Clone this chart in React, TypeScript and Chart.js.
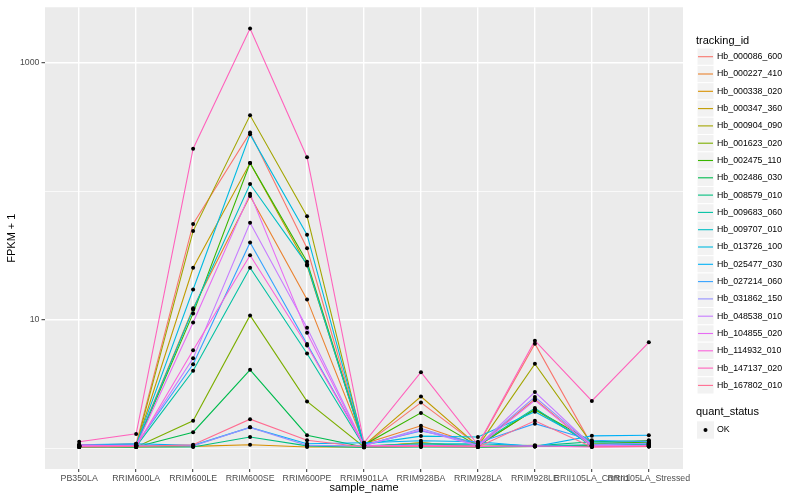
import React, { useEffect, useRef } from "react";
import { Chart, registerables } from "chart.js";

Chart.register(...registerables);

const categories = [
  "PB350LA",
  "RRIM600LA",
  "RRIM600LE",
  "RRIM600SE",
  "RRIM600PE",
  "RRIM901LA",
  "RRIM928BA",
  "RRIM928LA",
  "RRIM928LE",
  "RRII105LA_Control",
  "RRII105LA_Stressed",
];

const trackingIds = [
  "Hb_000086_600",
  "Hb_000227_410",
  "Hb_000338_020",
  "Hb_000347_360",
  "Hb_000904_090",
  "Hb_001623_020",
  "Hb_002475_110",
  "Hb_002486_030",
  "Hb_008579_010",
  "Hb_009683_060",
  "Hb_009707_010",
  "Hb_013726_100",
  "Hb_025477_030",
  "Hb_027214_060",
  "Hb_031862_150",
  "Hb_048538_010",
  "Hb_104855_020",
  "Hb_114932_010",
  "Hb_147137_020",
  "Hb_167802_010",
];

const seriesColors = [
  "#F8766D", "#EA8331", "#D89000", "#C09B00", "#A3A500",
  "#7CAE00", "#39B600", "#00BB4E", "#00BF7D", "#00C1A3",
  "#00BFC4", "#00BAE0", "#00B0F6", "#35A2FF", "#9590FF",
  "#C77CFF", "#E76BF3", "#FA62DB", "#FF62BC", "#FF6C91",
];

// FPKM + 1 values, one per sample in `categories`
const hb000086600 = [1.05, 1.08, 55.8, 287, 36, 1.05, 2.26, 1.05, 6.5, 1.05, 1.15];
const hb000227410 = [1.03, 1.06, 12.3, 92, 14.4, 1.08, 1.49, 1.05, 2.4, 1.03, 1.08];
const hb000338020 = [1.02, 1.02, 1.03, 1.06, 1.02, 1.02, 1.1, 1.02, 1.03, 1.05, 1.06];
const hb000347360 = [1.03, 1.05, 25.4, 166, 26.5, 1.05, 2.52, 1.04, 2.0, 1.06, 1.08];
const hb000904090 = [1.02, 1.04, 49, 391, 64, 1.03, 1.1, 1.03, 4.53, 1.08, 1.1];
const hb001623020 = [1.04, 1.02, 1.63, 10.8, 2.31, 1.02, 1.05, 1.03, 1.05, 1.03, 1.05];
const hb002475110 = [1.02, 1.04, 11.2, 166, 28.3, 1.06, 1.88, 1.04, 2.0, 1.12, 1.1];
const hb002486030 = [1.03, 1.02, 1.33, 4.07, 1.26, 1.02, 1.03, 1.02, 1.03, 1.04, 1.03];
const hb008579010 = [1.02, 1.02, 1.02, 1.22, 1.04, 1.01, 1.02, 1.02, 1.04, 1.12, 1.14];
const hb009683060 = [1.03, 1.03, 4.0, 25.4, 5.45, 1.03, 1.06, 1.06, 2.05, 1.04, 1.06];
const hb009707010 = [1.04, 1.05, 12, 114, 27, 1.04, 1.08, 1.08, 1.04, 1.06, 1.07];
const hb013726100 = [1.05, 1.06, 17.2, 278, 46, 1.07, 1.24, 1.22, 1.92, 1.1, 1.08];
const hb025477030 = [1.06, 1.08, 1.05, 1.45, 1.08, 1.1, 1.14, 1.12, 1.03, 1.245, 1.26];
const hb027214060 = [1.05, 1.06, 4.5, 40, 6.47, 1.06, 1.36, 1.1, 1.55, 1.15, 1.12];
const hb031862150 = [1.04, 1.05, 1.04, 1.45, 1.05, 1.04, 1.42, 1.05, 2.5, 1.06, 1.09];
const hb048538010 = [1.04, 1.05, 5.0, 57, 8.67, 1.05, 1.38, 1.04, 2.73, 1.05, 1.04];
const hb104855020 = [1.03, 1.04, 9.5, 96, 7.9, 1.04, 1.05, 1.03, 2.36, 1.03, 1.05];
const hb114932010 = [1.06, 1.03, 5.78, 31.8, 6.3, 1.05, 1.04, 1.03, 1.04, 1.02, 1.03];
const hb147137020 = [1.12, 1.29, 215, 1858, 184.5, 1.1, 3.9, 1.06, 6.87, 2.33, 6.67];
const hb167802010 = [1.02, 1.03, 1.06, 1.68, 1.15, 1.02, 1.03, 1.02, 1.63, 1.02, 1.03];

const seriesValues = [
  hb000086600, hb000227410, hb000338020, hb000347360, hb000904090,
  hb001623020, hb002475110, hb002486030, hb008579010, hb009683060,
  hb009707010, hb013726100, hb025477030, hb027214060, hb031862150,
  hb048538010, hb104855020, hb114932010, hb147137020, hb167802010,
];

const yGridValues = [1, 10, 100, 1000];
const yLabeledValues = [10, 1000];

const FONT = '"Liberation Sans", Arial, Helvetica, sans-serif';

const panelPlugin = {
  id: "ggPanel",
  beforeDraw(chart: any) {
    const { ctx, chartArea } = chart;
    ctx.save();
    ctx.fillStyle = "#EBEBEB";
    ctx.fillRect(chartArea.left, chartArea.top, chartArea.right - chartArea.left, chartArea.bottom - chartArea.top);
    ctx.restore();
  },
};

const legendPlugin = {
  id: "ggLegend",
  afterDraw(chart: any) {
    const ctx = chart.ctx;
    ctx.save();
    const x0 = 697;
    const keyW = 17;
    const step = 17.3;
    ctx.textAlign = "left";
    ctx.textBaseline = "middle";
    ctx.fillStyle = "#000000";
    ctx.font = `11px ${FONT}`;
    ctx.fillText("tracking_id", 696, 40.5);
    trackingIds.forEach((id, i) => {
      const cy = 56.7 + step * i;
      ctx.fillStyle = "#F2F2F2";
      ctx.fillRect(x0, cy - step / 2, keyW, step);
      ctx.strokeStyle = "#FFFFFF";
      ctx.lineWidth = 1;
      ctx.strokeRect(x0, cy - step / 2, keyW, step);
      ctx.strokeStyle = seriesColors[i];
      ctx.lineWidth = 1.1;
      ctx.beginPath();
      ctx.moveTo(x0 + 1, cy);
      ctx.lineTo(x0 + keyW - 1, cy);
      ctx.stroke();
      ctx.fillStyle = "#000000";
      ctx.font = `8.8px ${FONT}`;
      ctx.fillText(id, 717, cy);
    });
    ctx.font = `11px ${FONT}`;
    ctx.fillStyle = "#000000";
    ctx.fillText("quant_status", 696, 412.3);
    const cyOk = 430;
    ctx.fillStyle = "#F2F2F2";
    ctx.fillRect(x0, cyOk - step / 2, keyW, step);
    ctx.fillStyle = "#000000";
    ctx.beginPath();
    ctx.arc(x0 + keyW / 2, cyOk, 2, 0, Math.PI * 2);
    ctx.fill();
    ctx.font = `8.8px ${FONT}`;
    ctx.fillText("OK", 717, cyOk);
    ctx.restore();
  },
};

export default function App() {
  const canvasRef = useRef<HTMLCanvasElement | null>(null);

  useEffect(() => {
    if (!canvasRef.current) return;
    const lineSets = seriesValues.map((vals, s) => ({
      type: "line" as const,
      label: trackingIds[s],
      data: vals.map((v, i) => ({ x: i, y: v })),
      borderColor: seriesColors[s],
      backgroundColor: seriesColors[s],
      borderWidth: 1.1,
      pointRadius: 0,
      pointHoverRadius: 0,
      tension: 0,
      fill: false,
      order: seriesValues.length - s,
    }));
    const pointSet = {
      type: "scatter" as const,
      label: "OK",
      data: seriesValues.flatMap((vals) => vals.map((v, i) => ({ x: i, y: v }))),
      backgroundColor: "#000000",
      borderColor: "#000000",
      borderWidth: 0,
      pointRadius: 2,
      pointHoverRadius: 2,
      showLine: false,
      order: 0,
    };

    const chart = new Chart(canvasRef.current, {
      type: "line",
      data: { datasets: [...lineSets, pointSet] as any },
      options: {
        responsive: false,
        animation: false,
        events: [],
        layout: { padding: { left: 0, top: 5, right: 117, bottom: 0 } },
        plugins: {
          legend: { display: false },
          tooltip: { enabled: false },
        },
        scales: {
          x: {
            type: "linear",
            min: -0.6,
            max: 10.6,
            afterBuildTicks: (scale: any) => {
              scale.ticks = categories.map((_, i) => ({ value: i }));
            },
            afterFit: (scale: any) => {
              scale.height = 31;
            },
            border: { display: false },
            grid: {
              color: "#FFFFFF",
              lineWidth: 1.4,
              drawTicks: true,
              tickLength: 3,
              tickColor: "#333333",
              tickWidth: 1,
            },
            ticks: {
              autoSkip: false,
              maxRotation: 0,
              minRotation: 0,
              padding: 1,
              color: "#4D4D4D",
              font: { family: FONT, size: 8.8 },
              callback: (value: any) => categories[Math.round(Number(value))] ?? "",
            },
            title: {
              display: true,
              text: "sample_name",
              color: "#000000",
              font: { family: FONT, size: 11 },
              padding: { top: 0, bottom: 5.1 },
            },
          },
          y: {
            type: "logarithmic",
            min: 0.687,
            max: 2717,
            afterBuildTicks: (scale: any) => {
              scale.ticks = yGridValues.map((v) => ({ value: v }));
            },
            afterFit: (scale: any) => {
              scale.width = 45;
            },
            border: { display: false },
            grid: {
              color: "#FFFFFF",
              lineWidth: (c: any) => (c.tick && yLabeledValues.includes(c.tick.value) ? 1.4 : 0.7),
              drawTicks: true,
              tickLength: 3.5,
              tickWidth: 1,
              tickColor: (c: any) =>
                c.tick && yLabeledValues.includes(c.tick.value) ? "#333333" : "rgba(0,0,0,0)",
            },
            ticks: {
              autoSkip: false,
              padding: 2,
              color: "#4D4D4D",
              font: { family: FONT, size: 8.8 },
              callback: (value: any) => (yLabeledValues.includes(Number(value)) ? String(value) : ""),
            },
            title: {
              display: true,
              text: "FPKM + 1",
              color: "#000000",
              font: { family: FONT, size: 11 },
              padding: { top: 5.4, bottom: 0 },
            },
          },
        },
      } as any,
      plugins: [panelPlugin, legendPlugin],
    });
    return () => chart.destroy();
  }, []);

  return (
    <div style={{ position: "absolute", left: 0, top: 0, width: 800, height: 500 }}>
      <canvas ref={canvasRef} width={800} height={500} style={{ width: 800, height: 500 }} />
    </div>
  );
}
